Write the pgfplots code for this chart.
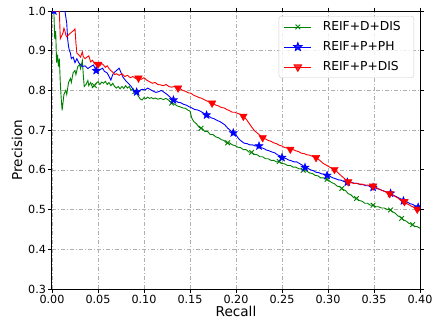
\documentclass[border=0pt]{standalone}
\usepackage{fontspec}
\setmainfont{DejaVu Sans}
\usepackage{pgfplots}
\pgfplotsset{compat=1.18}
\usetikzlibrary{plotmarks}
\definecolor{mgreen}{rgb}{0,0.5,0}
\definecolor{gridgray}{rgb}{0.69,0.69,0.69}
\pgfdeclareplotmark{fstar}{%
  \pgfpathmoveto{\pgfpointpolar{90}{\pgfplotmarksize}}%
  \pgfpathlineto{\pgfpointpolar{126}{0.42\pgfplotmarksize}}%
  \pgfpathlineto{\pgfpointpolar{162}{\pgfplotmarksize}}%
  \pgfpathlineto{\pgfpointpolar{198}{0.42\pgfplotmarksize}}%
  \pgfpathlineto{\pgfpointpolar{234}{\pgfplotmarksize}}%
  \pgfpathlineto{\pgfpointpolar{270}{0.42\pgfplotmarksize}}%
  \pgfpathlineto{\pgfpointpolar{306}{\pgfplotmarksize}}%
  \pgfpathlineto{\pgfpointpolar{342}{0.42\pgfplotmarksize}}%
  \pgfpathlineto{\pgfpointpolar{18}{\pgfplotmarksize}}%
  \pgfpathlineto{\pgfpointpolar{54}{0.42\pgfplotmarksize}}%
  \pgfpathclose
  \pgfusepathqfillstroke}

\pgfplotstableread{
r p
0.000 1.000
0.002 1.000
0.003 0.930
0.004 0.950
0.005 0.870
0.006 0.890
0.007 0.860
0.008 0.880
0.009 0.820
0.010 0.780
0.011 0.750
0.012 0.770
0.013 0.790
0.015 0.800
0.016 0.790
0.018 0.820
0.020 0.830
0.021 0.820
0.023 0.845
0.025 0.850
0.026 0.840
0.028 0.860
0.030 0.865
0.031 0.855
0.033 0.875
0.034 0.840
0.035 0.810
0.037 0.815
0.039 0.825
0.040 0.812
0.042 0.820
0.044 0.808
0.046 0.812
0.048 0.818
0.050 0.822
0.052 0.815
0.054 0.821
0.056 0.818
0.058 0.823
0.060 0.815
0.062 0.820
0.064 0.812
0.066 0.818
0.068 0.810
0.070 0.806
0.072 0.810
0.074 0.804
0.076 0.810
0.078 0.805
0.080 0.812
0.082 0.806
0.084 0.810
0.086 0.800
0.088 0.805
0.090 0.797
0.092 0.793
0.094 0.785
0.096 0.778
0.098 0.776
0.100 0.782
0.102 0.779
0.104 0.783
0.106 0.780
0.108 0.782
0.110 0.779
0.112 0.781
0.115 0.778
0.118 0.780
0.121 0.777
0.124 0.780
0.127 0.775
0.130 0.768
0.133 0.766
0.136 0.761
0.139 0.759
0.142 0.756
0.145 0.755
0.148 0.750
0.150 0.748
0.152 0.730
0.154 0.722
0.157 0.716
0.160 0.707
0.163 0.704
0.166 0.697
0.169 0.697
0.172 0.689
0.175 0.689
0.178 0.683
0.181 0.681
0.184 0.676
0.187 0.674
0.190 0.667
0.193 0.668
0.196 0.663
0.199 0.661
0.202 0.657
0.205 0.656
0.208 0.651
0.211 0.651
0.214 0.645
0.217 0.644
0.220 0.639
0.223 0.638
0.226 0.633
0.229 0.633
0.232 0.628
0.235 0.628
0.238 0.624
0.241 0.624
0.244 0.620
0.247 0.621
0.250 0.616
0.253 0.615
0.256 0.611
0.259 0.611
0.262 0.607
0.265 0.607
0.268 0.603
0.271 0.602
0.274 0.598
0.277 0.597
0.280 0.592
0.283 0.591
0.286 0.586
0.289 0.585
0.292 0.580
0.295 0.580
0.298 0.576
0.301 0.573
0.304 0.568
0.307 0.565
0.310 0.559
0.313 0.557
0.316 0.551
0.319 0.548
0.322 0.540
0.325 0.537
0.328 0.530
0.331 0.528
0.334 0.523
0.337 0.521
0.340 0.516
0.343 0.516
0.346 0.511
0.349 0.511
0.352 0.507
0.355 0.507
0.358 0.504
0.361 0.504
0.364 0.501
0.367 0.500
0.370 0.495
0.373 0.491
0.376 0.484
0.379 0.481
0.382 0.474
0.385 0.471
0.388 0.465
0.391 0.463
0.394 0.458
0.397 0.457
0.400 0.453
}\greendata

\pgfplotstableread{
r p
0.000 1.000
0.013 1.000
0.014 1.000
0.016 0.970
0.017 0.930
0.018 0.910
0.019 0.900
0.020 0.894
0.021 0.880
0.023 0.884
0.025 0.870
0.027 0.880
0.029 0.870
0.031 0.865
0.033 0.860
0.036 0.862
0.039 0.855
0.042 0.860
0.045 0.864
0.047 0.855
0.049 0.846
0.052 0.852
0.055 0.856
0.057 0.848
0.060 0.844
0.062 0.835
0.064 0.826
0.066 0.840
0.068 0.846
0.070 0.850
0.073 0.856
0.075 0.845
0.077 0.834
0.080 0.825
0.083 0.818
0.086 0.810
0.089 0.800
0.092 0.796
0.095 0.800
0.098 0.803
0.101 0.801
0.104 0.806
0.107 0.802
0.110 0.798
0.113 0.795
0.116 0.797
0.119 0.800
0.122 0.795
0.125 0.790
0.128 0.784
0.131 0.777
0.134 0.775
0.137 0.770
0.140 0.769
0.143 0.765
0.146 0.763
0.149 0.759
0.152 0.756
0.155 0.752
0.158 0.751
0.161 0.748
0.164 0.744
0.167 0.739
0.170 0.736
0.173 0.731
0.176 0.729
0.179 0.725
0.182 0.722
0.185 0.718
0.188 0.713
0.191 0.705
0.194 0.699
0.197 0.693
0.200 0.688
0.203 0.678
0.206 0.672
0.209 0.667
0.212 0.666
0.215 0.663
0.218 0.663
0.221 0.660
0.224 0.660
0.227 0.656
0.230 0.654
0.233 0.650
0.236 0.648
0.239 0.645
0.242 0.643
0.245 0.638
0.248 0.635
0.251 0.630
0.254 0.629
0.257 0.625
0.260 0.623
0.263 0.620
0.266 0.620
0.269 0.616
0.272 0.612
0.275 0.606
0.278 0.604
0.281 0.600
0.284 0.598
0.287 0.594
0.290 0.593
0.293 0.590
0.296 0.589
0.299 0.586
0.302 0.584
0.305 0.580
0.308 0.578
0.311 0.575
0.314 0.574
0.317 0.571
0.320 0.570
0.323 0.568
0.326 0.568
0.329 0.566
0.332 0.566
0.335 0.563
0.338 0.563
0.341 0.560
0.344 0.560
0.347 0.557
0.350 0.556
0.353 0.553
0.356 0.551
0.359 0.548
0.362 0.546
0.365 0.542
0.368 0.541
0.371 0.536
0.374 0.533
0.377 0.529
0.380 0.526
0.383 0.521
0.386 0.519
0.389 0.515
0.392 0.513
0.395 0.509
0.398 0.507
0.400 0.503
}\bluedata

\pgfplotstableread{
r p
0.000 1.000
0.008 1.000
0.009 0.930
0.010 0.935
0.012 0.945
0.013 0.957
0.014 0.950
0.015 0.940
0.016 0.935
0.018 0.940
0.020 0.944
0.022 0.948
0.024 0.952
0.025 0.955
0.026 0.920
0.027 0.894
0.029 0.890
0.031 0.884
0.033 0.897
0.034 0.885
0.036 0.880
0.038 0.884
0.040 0.887
0.042 0.872
0.044 0.876
0.046 0.868
0.048 0.864
0.050 0.866
0.052 0.862
0.054 0.868
0.056 0.864
0.058 0.858
0.060 0.862
0.062 0.855
0.064 0.850
0.066 0.846
0.068 0.840
0.070 0.842
0.073 0.838
0.076 0.842
0.079 0.835
0.082 0.838
0.085 0.832
0.088 0.835
0.091 0.830
0.094 0.831
0.097 0.828
0.100 0.832
0.103 0.826
0.106 0.822
0.109 0.818
0.112 0.820
0.115 0.815
0.118 0.814
0.121 0.812
0.124 0.815
0.127 0.810
0.130 0.808
0.133 0.810
0.136 0.806
0.139 0.805
0.142 0.800
0.145 0.798
0.148 0.794
0.151 0.793
0.154 0.788
0.157 0.785
0.160 0.782
0.163 0.780
0.166 0.776
0.169 0.773
0.172 0.769
0.175 0.768
0.178 0.763
0.181 0.761
0.184 0.757
0.187 0.756
0.190 0.752
0.193 0.749
0.196 0.745
0.199 0.745
0.202 0.742
0.205 0.740
0.208 0.735
0.211 0.728
0.214 0.718
0.217 0.708
0.220 0.699
0.223 0.693
0.226 0.687
0.229 0.681
0.232 0.678
0.235 0.674
0.238 0.672
0.241 0.668
0.244 0.666
0.247 0.662
0.250 0.660
0.253 0.656
0.256 0.655
0.259 0.652
0.262 0.651
0.265 0.648
0.268 0.646
0.271 0.642
0.274 0.641
0.277 0.638
0.280 0.637
0.283 0.634
0.286 0.632
0.289 0.628
0.292 0.622
0.295 0.616
0.298 0.612
0.301 0.608
0.304 0.604
0.307 0.601
0.310 0.595
0.313 0.588
0.316 0.582
0.319 0.576
0.322 0.570
0.325 0.568
0.328 0.566
0.331 0.566
0.334 0.564
0.337 0.564
0.340 0.562
0.343 0.562
0.346 0.560
0.349 0.559
0.352 0.556
0.355 0.552
0.358 0.549
0.361 0.546
0.364 0.543
0.367 0.540
0.370 0.537
0.373 0.533
0.376 0.529
0.379 0.524
0.382 0.520
0.385 0.516
0.388 0.512
0.391 0.508
0.394 0.505
0.397 0.501
0.400 0.498
}\reddata

\begin{document}
\begin{tikzpicture}
\useasboundingbox (-52pt,-33pt) rectangle (387pt,289pt);
\begin{axis}[
  scale only axis,
  width=368pt, height=278pt,
  xmin=0, xmax=0.4, ymin=0.3, ymax=1.0,
  xtick={0,0.05,...,0.401},
  ytick={0.3,0.4,...,1.01},
  xticklabel style={yshift=1pt, /pgf/number format/.cd, fixed, fixed zerofill, precision=2},
  yticklabel style={xshift=1pt, /pgf/number format/.cd, fixed, fixed zerofill, precision=1},
  /pgf/number format/assume math mode=true,
  ticklabel style={font=\fontsize{11.2}{13}\selectfont},
  label style={font=\fontsize{13.6}{15}\selectfont},
  xlabel={Recall}, ylabel={Precision},
  xlabel style={yshift=4pt},
  ylabel style={yshift=-1pt},
  tick align=outside,
  major tick length=3.5pt,
  tick style={black, line width=0.8pt},
  axis line style={black, line width=1pt},
  grid=major,
  grid style={gridgray, line width=0.7pt, dash pattern=on 4pt off 2pt on 1pt off 2pt},
  clip marker paths=true,
  legend style={at={(rel axis cs:1,1)}, anchor=north east, xshift=-6pt, yshift=-5pt,
    draw=black!20, rounded corners=2.5pt, fill=white, fill opacity=0.8, text opacity=1,
    font=\fontsize{12.3}{14}\selectfont, row sep=8.5pt, inner xsep=5pt, inner ysep=5pt,
    nodes={inner xsep=0pt, inner ysep=0pt, text height=9pt, text depth=2.5pt}},
  legend cell align=left,
  legend image code/.code={\path (0pt,0pt) (38pt,0pt);\draw[#1, mark repeat=2, mark phase=2] plot coordinates {(0pt,0pt) (13.5pt,0pt) (27pt,0pt)};},
]
\addplot[mgreen, line width=0.9pt, forget plot] table[x=r,y=p] {\greendata};
\addplot[only marks, mgreen, mark=x, mark size=3.3pt, line width=0.9pt, forget plot] coordinates {
(0.046,0.812) (0.090,0.797) (0.130,0.768) (0.162,0.705) (0.191,0.668) (0.217,0.644)
(0.247,0.621) (0.273,0.599) (0.299,0.576) (0.315,0.553) (0.331,0.528) (0.349,0.511)
(0.368,0.499) (0.380,0.478) (0.392,0.462)};
\addplot[blue, line width=0.9pt, forget plot] table[x=r,y=p] {\bluedata};
\addplot[only marks, blue, mark=fstar, mark size=4.3pt, forget plot] coordinates {
(0.002,1.000) (0.048,0.850) (0.092,0.796) (0.132,0.776) (0.168,0.738) (0.197,0.693)
(0.225,0.660) (0.250,0.631) (0.275,0.606) (0.299,0.586) (0.321,0.569) (0.349,0.556)
(0.368,0.541) (0.382,0.522) (0.398,0.506)};
\addplot[red, line width=0.9pt, forget plot] table[x=r,y=p] {\reddata};
\addplot[only marks, red, mark=triangle*, mark size=4.4pt, mark options={rotate=180}, forget plot] coordinates {
(0.050,0.866) (0.094,0.831) (0.137,0.806) (0.174,0.768) (0.208,0.735) (0.229,0.681)
(0.259,0.652) (0.287,0.631) (0.307,0.601) (0.322,0.570) (0.349,0.559) (0.367,0.540)
(0.383,0.520) (0.397,0.501)};
\addlegendimage{mgreen, line width=0.9pt, mark=x, mark size=3.3pt}
\addlegendentry{REIF+D+DIS\hspace*{8pt}}
\addlegendimage{blue, line width=0.9pt, mark=fstar, mark size=4.3pt}
\addlegendentry{REIF+P+PH\hspace*{8pt}}
\addlegendimage{red, line width=0.9pt, mark=triangle*, mark size=4.4pt, mark options={rotate=180}}
\addlegendentry{REIF+P+DIS\hspace*{8pt}}
\end{axis}
\end{tikzpicture}
\end{document}
